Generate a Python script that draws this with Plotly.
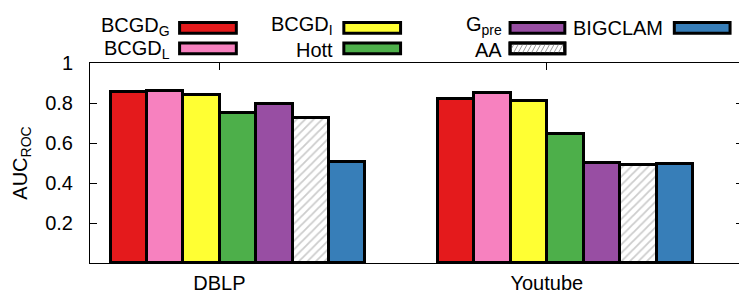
import plotly.graph_objects as go

# ---- data ----
datasets = ["DBLP", "Youtube"]
methods = ["BCGD<sub>G</sub>", "BCGD<sub>L</sub>", "BCGD<sub>I</sub>", "Hott",
           "G<sub>pre</sub>", "AA", "BIGCLAM"]
auc_bcgd_g = [0.857, 0.820]
auc_bcgd_l = [0.860, 0.849]
auc_bcgd_i = [0.839, 0.811]
auc_hott = [0.748, 0.644]
auc_gpre = [0.794, 0.499]
auc_aa = [0.727, 0.489]
auc_bigclam = [0.507, 0.494]
yticks = [0.2, 0.4, 0.6, 0.8, 1.0]
yticktext = ["0.2", "0.4", "0.6", "0.8", "1"]

series = [auc_bcgd_g, auc_bcgd_l, auc_bcgd_i, auc_hott, auc_gpre, auc_aa, auc_bigclam]
colors = ["#e41a1c", "#f781bf", "#ffff33", "#4daf4a", "#984ea3", "#ffffff", "#377eb8"]

W, H = 747, 297
L, R, T, B = 80, 11, 55, 37
FONT = "Liberation Sans, Arial, sans-serif"
FS = 20

bar_w = 0.1112
start = -0.3323

fig = go.Figure()
xpos = list(range(len(datasets)))
for i, (name, vals, col) in enumerate(zip(methods, series, colors)):
    marker = dict(color=col, line=dict(color="black", width=3))
    if name == "AA":
        marker["pattern"] = dict(shape="/", fgcolor="#9a9a9a", bgcolor="white",
                                 size=6, solidity=0.3)
    fig.add_trace(go.Bar(x=xpos, y=vals, name=name, width=bar_w,
                         offset=start + i * bar_w, marker=marker,
                         showlegend=False))

# ---- custom legend (gnuplot style: text right-aligned, sample to the right) ----
pw, ph = W - L - R, H - T - B


def px(x):
    return (x - L) / pw


def py(y):
    return (H - B - y) / ph


legend_items = [
    # text right edge, box x0, box x1, text center y
    (methods[0], 161, 170, 227, 18),
    (methods[1], 161, 170, 227, 41),
    (methods[2], 325, 335, 392, 17),
    (methods[3], 325, 335, 392, 42),
    (methods[4], 495, 502, 557, 17),
    (methods[5], 495, 502, 557, 42),
    (methods[6], 657, 667, 723, 19),
]
shapes = []
annotations = []
for k, (txt, tx, bx0, bx1, cy) in enumerate(legend_items):
    col = colors[methods.index(txt)]
    by = 19 if cy < 30 else 40
    y0, y1 = by - 5.5, by + 5.5
    shapes.append(dict(type="rect", xref="paper", yref="paper",
                       x0=px(bx0), x1=px(bx1), y0=py(y1), y1=py(y0),
                       fillcolor=col, line=dict(color="black", width=3)))
    if txt == "AA":
        path = ""
        step = 4.5
        x = bx0 - 6
        while x < bx1:
            xa, xb = x, x + 6
            ya, yb = y1, y0
            if xa < bx0:
                ya = y1 - (bx0 - xa) * (y1 - y0) / 6
                xa = bx0
            if xb > bx1:
                yb = y0 + (xb - bx1) * (y1 - y0) / 6
                xb = bx1
            if xb > xa:
                path += f"M {px(xa):.5f} {py(ya):.5f} L {px(xb):.5f} {py(yb):.5f} "
            x += step
        shapes.append(dict(type="path", xref="paper", yref="paper", path=path,
                           line=dict(color="#9a9a9a", width=1)))
        shapes.append(dict(type="rect", xref="paper", yref="paper",
                           x0=px(bx0), x1=px(bx1), y0=py(y1), y1=py(y0),
                           line=dict(color="black", width=3)))
    annotations.append(dict(text=txt, xref="paper", yref="paper",
                            x=px(tx), y=py(cy), xanchor="right", yanchor="middle",
                            showarrow=False, borderpad=0,
                            font=dict(family=FONT, size=FS, color="black")))

fig.update_layout(
    width=W, height=H,
    margin=dict(l=L, r=R, t=T, b=B, pad=0),
    paper_bgcolor="white", plot_bgcolor="white",
    font=dict(family=FONT, size=FS, color="black"),
    shapes=shapes, annotations=annotations,
    bargap=0,
)
fig.update_xaxes(range=[-0.395, 1.599], tickvals=xpos, ticktext=datasets,
                 showgrid=False, zeroline=False, showline=True, linecolor="black",
                 linewidth=1, mirror="ticks", ticks="inside", ticklen=7,
                 tickcolor="black", ticklabelstandoff=2,
                 tickfont=dict(family=FONT, size=FS, color="black"))
fig.update_yaxes(range=[0, 1], tickvals=yticks, ticktext=yticktext,
                 showgrid=False, zeroline=False, showline=True, linecolor="black",
                 linewidth=1, mirror="ticks", ticks="inside", ticklen=7,
                 tickcolor="black", ticklabelstandoff=12,
                 tickfont=dict(family=FONT, size=FS, color="black"),
                 title=dict(text="AUC<sub>ROC</sub>", standoff=12,
                            font=dict(family=FONT, size=FS, color="black")))

fig.write_html("out.html")
